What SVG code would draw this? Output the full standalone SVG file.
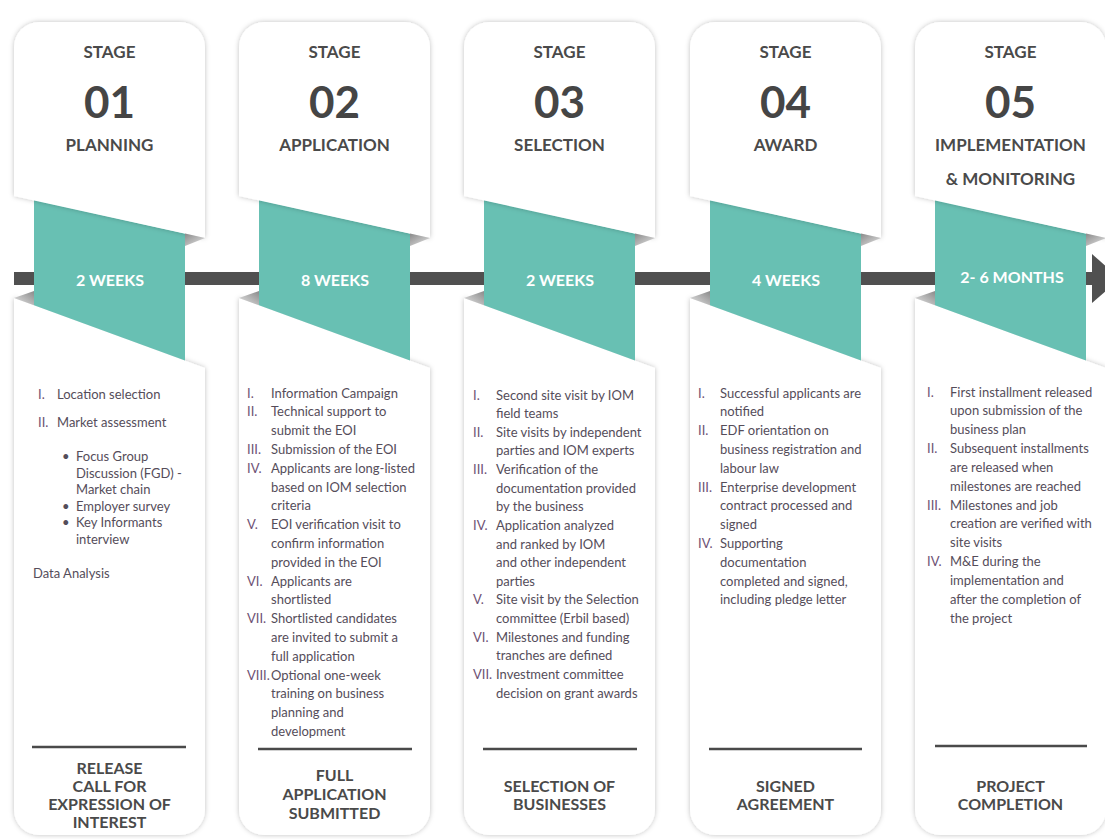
<svg xmlns="http://www.w3.org/2000/svg" width="1105" height="839" viewBox="0 0 1105 839">
<defs>
<filter id="sh" x="-10%" y="-10%" width="120%" height="120%">
<feDropShadow dx="0" dy="0" stdDeviation="2.5" flood-color="#000" flood-opacity="0.25"/>
</filter>
<linearGradient id="foldT" x1="0" y1="0" x2="1" y2="1">
<stop offset="0" stop-color="#8a8a8a"/><stop offset="1" stop-color="#e6e6e6"/>
</linearGradient>
<linearGradient id="foldB" x1="1" y1="0" x2="0" y2="1">
<stop offset="0" stop-color="#8a8a8a"/><stop offset="1" stop-color="#e6e6e6"/>
</linearGradient>
<g id="cardShapes">
<path class="card" d="M0,298 L191,368 L191,810 A25,25 0 0 1 166,835 L25,835 A25,25 0 0 1 0,810 Z"/>
<polygon class="teal" points="20,200 171,233.6 171,360.6 20,305.3"/>
<path class="card" d="M0,196 L0,47 A25,25 0 0 1 25,22 L166,22 A25,25 0 0 1 191,47 L191,238 Z"/>
<polygon fill="url(#foldT)" points="171,233.6 191,238 171,246"/>
<polygon fill="url(#foldB)" points="20,291 0,298 20,305.3"/>
</g>
</defs>
<style>
.card{fill:#ffffff;filter:url(#sh);}
.teal{fill:#68c0b3;}
.hd{font-family:Lato,"Open Sans",sans-serif;font-weight:700;fill:#4a4a4a;text-anchor:middle;font-size:17px;}
.num{font-family:Lato,"Open Sans",sans-serif;font-weight:700;fill:#454545;text-anchor:middle;font-size:44px;}
.dur{font-family:Lato,"Open Sans",sans-serif;font-weight:700;fill:#ffffff;text-anchor:middle;font-size:16px;}
.li{font-family:Lato,"Open Sans",sans-serif;font-size:13px;fill:#554d5a;}
.rn{fill:#6e5175;}
.ft{font-family:Lato,"Open Sans",sans-serif;font-weight:700;fill:#4a4a4a;text-anchor:middle;font-size:16px;}
.sep{stroke:#4a4a4a;stroke-width:2.5;}
</style>
<rect width="1105" height="839" fill="#ffffff"/>
<g id="connectors">
<rect x="14" y="272" width="1080" height="13" fill="#505050"/>
<polygon points="1092,254 1120,278.5 1092,303" fill="#505050"/>
</g>
<g id="stage1" transform="translate(14,0)">
<use href="#cardShapes"/>
<text class="hd" x="95.5" y="58">STAGE</text>
<text class="num" x="95.5" y="118">01</text>
<text class="hd" x="95.5" y="151">PLANNING</text>
<text class="dur" x="96" y="286">2 WEEKS</text>
<g class="li">
<text class="rn" x="24" y="399">I.</text><text x="43" y="399">Location selection</text>
<text class="rn" x="24" y="427">II.</text><text x="43" y="427">Market assessment</text>
<text x="48" y="461">•</text><text x="62" y="461">Focus Group</text>
<text x="62" y="477.5">Discussion (FGD) -</text>
<text x="62" y="494">Market chain</text>
<text x="48" y="510.5">•</text><text x="62" y="510.5">Employer survey</text>
<text x="48" y="527">•</text><text x="62" y="527">Key Informants</text>
<text x="62" y="543.5">interview</text>
<text x="19" y="578">Data Analysis</text>
</g>
<line class="sep" x1="18" y1="747" x2="172" y2="747"/>
<text class="ft" x="95.5" y="774">RELEASE</text>
<text class="ft" x="95.5" y="792">CALL FOR</text>
<text class="ft" x="95.5" y="810">EXPRESSION OF</text>
<text class="ft" x="95.5" y="828">INTEREST</text>
</g>
<g id="stage2" transform="translate(239,0)">
<use href="#cardShapes"/>
<text class="hd" x="95.5" y="58">STAGE</text>
<text class="num" x="95.5" y="118">02</text>
<text class="hd" x="95.5" y="151">APPLICATION</text>
<text class="dur" x="96" y="286">8 WEEKS</text>
<g class="li">
<text class="rn" x="8" y="397.5">I.</text><text x="32" y="397.5">Information Campaign</text>
<text class="rn" x="8" y="416.3">II.</text><text x="32" y="416.3">Technical support to</text>
<text x="32" y="435.1">submit the EOI</text>
<text class="rn" x="8" y="453.9">III.</text><text x="32" y="453.9">Submission of the EOI</text>
<text class="rn" x="8" y="472.7">IV.</text><text x="32" y="472.7">Applicants are long-listed</text>
<text x="32" y="491.5">based on IOM selection</text>
<text x="32" y="510.3">criteria</text>
<text class="rn" x="8" y="529.1">V.</text><text x="32" y="529.1">EOI verification visit to</text>
<text x="32" y="547.9">confirm information</text>
<text x="32" y="566.7">provided in the EOI</text>
<text class="rn" x="8" y="585.5">VI.</text><text x="32" y="585.5">Applicants are</text>
<text x="32" y="604.3">shortlisted</text>
<text class="rn" x="8" y="623.1">VII.</text><text x="32" y="623.1">Shortlisted candidates</text>
<text x="32" y="641.9">are invited to submit a</text>
<text x="32" y="660.7">full application</text>
<text class="rn" x="8" y="679.5">VIII.</text><text x="32" y="679.5">Optional one-week</text>
<text x="32" y="698.3">training on business</text>
<text x="32" y="717.1">planning and</text>
<text x="32" y="735.9">development</text>
</g>
<line class="sep" x1="19" y1="749" x2="173" y2="749"/>
<text class="ft" x="95.5" y="781">FULL</text>
<text class="ft" x="95.5" y="800">APPLICATION</text>
<text class="ft" x="95.5" y="819">SUBMITTED</text>
</g>
<g id="stage3" transform="translate(464,0)">
<use href="#cardShapes"/>
<text class="hd" x="95.5" y="58">STAGE</text>
<text class="num" x="95.5" y="118">03</text>
<text class="hd" x="95.5" y="151">SELECTION</text>
<text class="dur" x="96" y="286">2 WEEKS</text>
<g class="li">
<text class="rn" x="9" y="399.5">I.</text><text x="32" y="399.5">Second site visit by IOM</text>
<text x="32" y="418.1">field teams</text>
<text class="rn" x="9" y="436.8">II.</text><text x="32" y="436.8">Site visits by independent</text>
<text x="32" y="455.4">parties and IOM experts</text>
<text class="rn" x="9" y="474">III.</text><text x="32" y="474">Verification of the</text>
<text x="32" y="492.7">documentation provided</text>
<text x="32" y="511.3">by the business</text>
<text class="rn" x="9" y="529.9">IV.</text><text x="32" y="529.9">Application analyzed</text>
<text x="32" y="548.5">and ranked by IOM</text>
<text x="32" y="567.2">and other independent</text>
<text x="32" y="585.8">parties</text>
<text class="rn" x="9" y="604.4">V.</text><text x="32" y="604.4">Site visit by the Selection</text>
<text x="32" y="623">committee (Erbil based)</text>
<text class="rn" x="9" y="641.7">VI.</text><text x="32" y="641.7">Milestones and funding</text>
<text x="32" y="660.3">tranches are defined</text>
<text class="rn" x="9" y="679">VII.</text><text x="32" y="679">Investment committee</text>
<text x="32" y="697.6">decision on grant awards</text>
</g>
<line class="sep" x1="19" y1="749" x2="173" y2="749"/>
<text class="ft" x="95.5" y="792">SELECTION OF</text>
<text class="ft" x="95.5" y="810">BUSINESSES</text>
</g>
<g id="stage4" transform="translate(690,0)">
<use href="#cardShapes"/>
<text class="hd" x="95.5" y="58">STAGE</text>
<text class="num" x="95.5" y="118">04</text>
<text class="hd" x="95.5" y="151">AWARD</text>
<text class="dur" x="96" y="286">4 WEEKS</text>
<g class="li">
<text class="rn" x="8" y="397.5">I.</text><text x="30" y="397.5">Successful applicants are</text>
<text x="30" y="416.3">notified</text>
<text class="rn" x="8" y="435.1">II.</text><text x="30" y="435.1">EDF orientation on</text>
<text x="30" y="453.9">business registration and</text>
<text x="30" y="472.7">labour law</text>
<text class="rn" x="8" y="491.5">III.</text><text x="30" y="491.5">Enterprise development</text>
<text x="30" y="510.3">contract processed and</text>
<text x="30" y="529.1">signed</text>
<text class="rn" x="8" y="547.9">IV.</text><text x="30" y="547.9">Supporting</text>
<text x="30" y="566.7">documentation</text>
<text x="30" y="585.5">completed and signed,</text>
<text x="30" y="604.3">including pledge letter</text>
</g>
<line class="sep" x1="19" y1="749" x2="172" y2="749"/>
<text class="ft" x="95.5" y="792">SIGNED</text>
<text class="ft" x="95.5" y="810">AGREEMENT</text>
</g>
<g id="stage5" transform="translate(915,0)">
<use href="#cardShapes"/>
<text class="hd" x="95.5" y="58">STAGE</text>
<text class="num" x="95.5" y="118">05</text>
<text class="hd" x="95.5" y="151">IMPLEMENTATION</text>
<text class="hd" x="95.5" y="185">&amp; MONITORING</text>
<text class="dur" x="97" y="283">2- 6 MONTHS</text>
<g class="li">
<text class="rn" x="12" y="396.5">I.</text><text x="35" y="396.5">First installment released</text>
<text x="35" y="415.3">upon submission of the</text>
<text x="35" y="434.2">business plan</text>
<text class="rn" x="12" y="453">II.</text><text x="35" y="453">Subsequent installments</text>
<text x="35" y="471.8">are released when</text>
<text x="35" y="490.7">milestones are reached</text>
<text class="rn" x="12" y="509.5">III.</text><text x="35" y="509.5">Milestones and job</text>
<text x="35" y="528.3">creation are verified with</text>
<text x="35" y="547.1">site visits</text>
<text class="rn" x="12" y="566">IV.</text><text x="35" y="566">M&amp;E during the</text>
<text x="35" y="584.8">implementation and</text>
<text x="35" y="603.6">after the completion of</text>
<text x="35" y="622.5">the project</text>
</g>
<line class="sep" x1="20" y1="746" x2="172" y2="746"/>
<text class="ft" x="95.5" y="792">PROJECT</text>
<text class="ft" x="95.5" y="810">COMPLETION</text>
</g>
</svg>
